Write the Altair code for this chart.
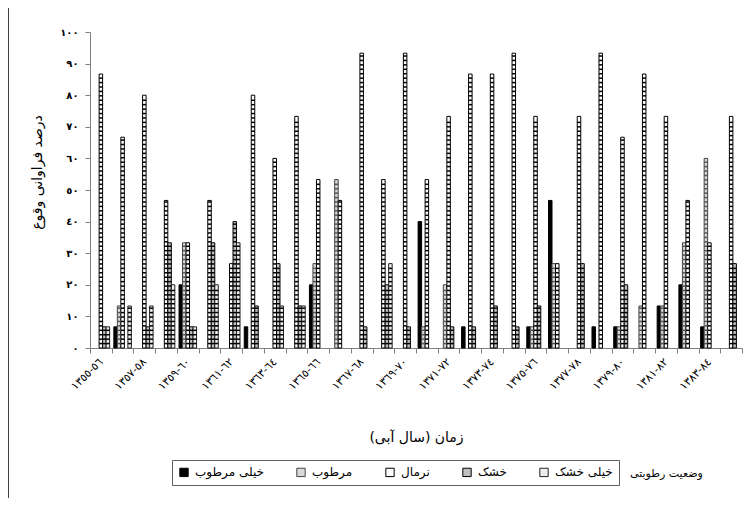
import altair as alt
import pandas as pd

# ---------------- data ----------------
period_codes = ["1355-56", "1356-57", "1357-58", "1358-59", "1359-60", "1360-61",
                "1361-62", "1362-63", "1363-64", "1364-65", "1365-66", "1366-67",
                "1367-68", "1368-69", "1369-70", "1370-71", "1371-72", "1372-73",
                "1373-74", "1374-75", "1375-76", "1376-77", "1377-78", "1378-79",
                "1379-80", "1380-81", "1381-82", "1382-83", "1383-84", "1384-85"]

classes = ["خیلی مرطوب", "مرطوب", "نرمال", "خشک", "خیلی خشک"]

very_wet = [0, 6.7, 0, 0, 20, 0, 0, 6.7, 0, 0, 20, 0, 0, 0, 0,
            40, 0, 6.7, 0, 0, 6.7, 46.7, 0, 6.7, 6.7, 0, 13.3, 20, 6.7, 0]
wet = [0, 13.3, 0, 0, 33.3, 0, 0, 0, 0, 0, 26.7, 53.3, 0, 0, 0,
       6.7, 20, 0, 0, 0, 6.7, 26.7, 0, 0, 6.7, 13.3, 13.3, 33.3, 60, 0]
normal = [86.7, 66.7, 80, 46.7, 33.3, 46.7, 26.7, 80, 60, 73.3, 53.3, 46.7, 93.3, 53.3, 93.3,
          53.3, 73.3, 86.7, 86.7, 93.3, 73.3, 26.7, 73.3, 93.3, 66.7, 86.7, 73.3, 46.7, 33.3, 73.3]
dry = [6.7, 0, 6.7, 33.3, 6.7, 33.3, 40, 13.3, 26.7, 13.3, 0, 0, 6.7, 20, 6.7,
       0, 6.7, 6.7, 13.3, 6.7, 13.3, 0, 26.7, 0, 20, 0, 0, 0, 0, 26.7]
very_dry = [6.7, 13.3, 13.3, 20, 6.7, 20, 33.3, 0, 13.3, 13.3, 0, 0, 0, 26.7, 0,
            0, 0, 0, 0, 0, 0, 0, 0, 0, 0, 0, 0, 0, 0, 0]

y_ticks = [0, 10, 20, 30, 40, 50, 60, 70, 80, 90, 100]

x_title = "زمان (سال آبی)"
y_title = "درصد فراوانی وقوع"
legend_title = "وضعیت رطوبتی"

# ---------------- helpers ----------------
ar = str.maketrans("0123456789", "٠١٢٣٤٥٦٧٨٩")
periods = [p.split("-")[0].translate(ar) + "\u200e-\u200e" + p.split("-")[1].translate(ar)
           for p in period_codes]
shown = periods[::2]
y_labels = [str(v).translate(ar) for v in y_ticks]

series = [very_wet, wet, normal, dry, very_dry]
rows = []
for i, p in enumerate(periods):
    for c, vals in zip(classes, series):
        rows.append({"period": p, "cls": c, "value": vals[i]})
df = pd.DataFrame(rows)

FONT = "DejaVu Sans"

shown_js = "[" + ",".join("'" + s + "'" for s in shown) + "]"
ylab_js = "[" + ",".join("'" + s + "'" for s in y_labels) + "]"

x_axis = alt.Axis(
    tickBand="extent", tickSize=5, tickColor="#808080", domainColor="#808080",
    labelAngle=-45, labelAlign="right", labelBaseline="middle", labelPadding=7,
    labelFontSize=11, labelFont=FONT, labelColor="black",
    labelExpr="indexof(" + shown_js + ", datum.value) >= 0 ? datum.value : ''",
    labelOverlap=False,
    titleFont=FONT, titleFontSize=14, titleFontWeight="normal", titleColor="black",
    titleY=82, titleBaseline="top",
)
y_axis = alt.Axis(
    values=y_ticks, tickSize=5, tickColor="#808080", domainColor="#808080",
    labelFontSize=10, labelFont=FONT, labelColor="black", labelPadding=7,
    labelFontWeight="bold",
    labelExpr=ylab_js + "[round(datum.value / 10)]", grid=False,
    titleFont=FONT, titleFontSize=14, titleFontWeight="normal", titleColor="black",
    titleX=-53, titleY=140, titleAngle=270, titleAlign="center", titleBaseline="middle",
)

x_enc = alt.X("period:N", sort=periods, title=x_title,
              scale=alt.Scale(domain=periods, paddingInner=0, paddingOuter=0), axis=x_axis)
xo_enc = alt.XOffset("cls:N", sort=classes,
                     scale=alt.Scale(domain=classes, paddingInner=0, paddingOuter=0.6))
y_scale = alt.Scale(domain=[0, 100], nice=False)

fills = ["#000000", "#d9d9d9", "#ffffff", "#bfbfbf", "#eeeeee"]
strokes = ["#000000", "#444444", "#000000", "#000000", "#222222"]

base = alt.Chart(df)

bars = base.transform_filter("datum.value > 0").mark_bar(strokeWidth=1).encode(
    x=x_enc,
    xOffset=xo_enc,
    y=alt.Y("value:Q", scale=y_scale, axis=y_axis, title=y_title, stack=None),
    fill=alt.Fill("cls:N", sort=classes,
                  scale=alt.Scale(domain=classes, range=fills),
                  legend=alt.Legend(
                      orient="none", legendX=82, legendY=428, direction="horizontal",
                      columns=5, title=None, strokeColor="#606060", padding=6,
                      symbolType="square", symbolSize=70, symbolStrokeColor="black",
                      symbolStrokeWidth=1, labelFont=FONT, labelFontSize=12,
                      labelColor="black", columnPadding=30, labelOffset=5,
                  )),
    stroke=alt.Stroke("cls:N", sort=classes,
                      scale=alt.Scale(domain=classes, range=strokes), legend=None),
)

rungs = base.transform_filter(
    "datum.value > 0 && datum.cls != '" + classes[0] + "'"
).transform_calculate(
    r="sequence(1.4, datum.value - 0.5, 1.4)"
).transform_flatten(["r"]).transform_calculate(
    r0="datum.r - 0.24", r1="datum.r + 0.24"
).mark_bar().encode(
    x=x_enc,
    xOffset=xo_enc,
    y=alt.Y("r0:Q", scale=y_scale, axis=y_axis, title=y_title),
    y2="r1:Q",
    fill=alt.condition("datum.cls == '" + classes[1] + "'",
                       alt.value("#555555"), alt.value("#000000")),
)

title_txt = alt.Chart(pd.DataFrame({"t": [legend_title]})).mark_text(
    font=FONT, fontSize=11, align="left", baseline="middle", color="black"
).encode(
    x=alt.value(540), y=alt.value(442), text="t:N"
)

frame = alt.Chart(pd.DataFrame({"t": [0]})).mark_rule(color="#404040", strokeWidth=1).encode(
    x=alt.value(-81.5), y=alt.value(-24), y2=alt.value(475)
)

chart = alt.layer(bars, rungs, title_txt, frame).properties(
    width=652, height=316,
    autosize=alt.AutoSizeParams(type="none"),
    padding={"left": 82, "top": 24, "right": 4, "bottom": 150},
    background="white",
).configure_view(stroke=None)

chart.save("out.html", embed_options={"renderer": "svg", "actions": False})
